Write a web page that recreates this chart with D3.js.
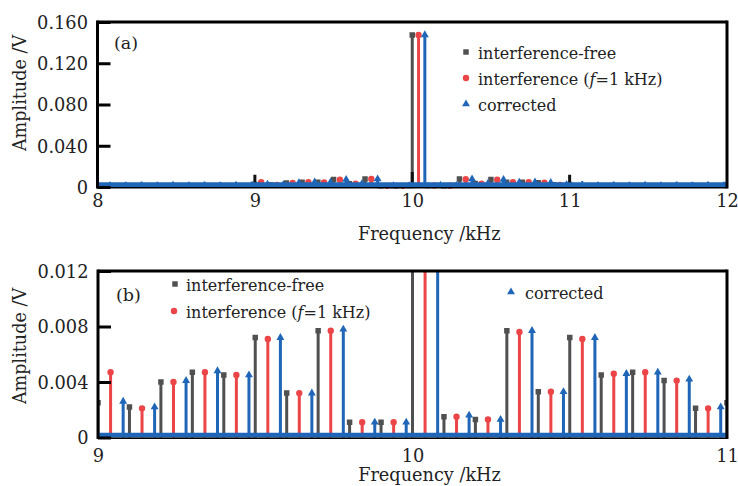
<!DOCTYPE html>
<html><head><meta charset="utf-8">
<script src="https://cdn.jsdelivr.net/npm/d3@7"></script>
<style>
body{margin:0;background:#fff}
svg{display:block}
text{font-family:"DejaVu Serif",serif;fill:#222}
</style>
</head><body><svg id="c" width="738" height="486"></svg>
<script>
// ---- data ----
const freeFreq = [9.0,9.1,9.2,9.3,9.4,9.5,9.6,9.7,9.8,9.9,10.0,10.1,10.2,10.3,10.4,10.5,10.6,10.7,10.8,10.9,11.0];
const freeAmp  = [0.0025,0.0022,0.0040,0.0047,0.0045,0.0072,0.0032,0.0077,0.0011,0.0011,0.1475,0.0015,0.0013,0.0077,0.0033,0.0072,0.0045,0.0047,0.0041,0.0021,0.0025];
const intFreq  = [9.04,9.14,9.24,9.34,9.44,9.54,9.64,9.74,9.84,9.94,10.04,10.14,10.24,10.34,10.44,10.54,10.64,10.74,10.84,10.94];
const intAmp   = [0.0047,0.0021,0.0040,0.0047,0.0045,0.0071,0.0032,0.0077,0.0011,0.0011,0.1475,0.0015,0.0013,0.0076,0.0033,0.0071,0.0046,0.0047,0.0041,0.0021];
const corFreq  = [9.08,9.18,9.28,9.38,9.48,9.58,9.68,9.78,9.88,9.98,10.08,10.18,10.28,10.38,10.48,10.58,10.68,10.78,10.88,10.98];
const corAmp   = [0.0026,0.0022,0.0041,0.0048,0.0045,0.0072,0.0032,0.0078,0.0011,0.0011,0.1475,0.0016,0.0013,0.0077,0.0033,0.0072,0.0046,0.0047,0.0042,0.0022];
// panel (a) extra: thin black spikes and small blue stems outside 9-11 kHz
const spikeFreqA = [9.0,10.0,11.0];
const spikeAmpA  = [0.0120,0.0145,0.0120];
const edgeFreqA  = [8.08,8.18,8.28,8.38,8.48,8.58,8.68,8.78,8.88,8.98,11.08,11.18,11.28,11.38,11.48,11.58,11.68,11.78,11.88,11.98];
const edgeAmpA   = [0.0052,0.0052,0.0053,0.0052,0.0053,0.0052,0.0053,0.0052,0.0053,0.0053,0.0058,0.0052,0.0053,0.0052,0.0053,0.0052,0.0053,0.0052,0.0053,0.0052];

const xTicksA = [8,9,10,11,12];
const yTicksA = [0,0.04,0.08,0.12,0.16];
const yLabelsA = ["0","0.040","0.080","0.120","0.160"];
const xTicksB = [9,10,11];
const yTicksB = [0,0.004,0.008,0.012];
const yLabelsB = ["0","0.004","0.008","0.012"];
const seriesNames = ["interference-free","interference (","corrected"];

const C_FREE = "#505050", C_INT = "#ec4548", C_COR = "#1f66b8";

const svg = d3.select("#c");

function drawPanel(cfg){
  const x = d3.scaleLinear().domain(cfg.xd).range([cfg.x0, cfg.x1]);
  const y = d3.scaleLinear().domain(cfg.yd).range([cfg.y0, cfg.y1]);
  const g = svg.append("g");
  const cid = "clip" + cfg.id;
  svg.append("clipPath").attr("id", cid).append("rect")
    .attr("x", cfg.x0).attr("y", cfg.y1).attr("width", cfg.x1 - cfg.x0).attr("height", cfg.y0 - cfg.y1 + 2);
  const pg = g.append("g").attr("clip-path", `url(#${cid})`);

  function stems(freqs, amps, color, w){
    pg.append("g").selectAll("line").data(freqs).join("line")
      .attr("x1", d => x(d)).attr("x2", d => x(d))
      .attr("y1", y(0)).attr("y2", (d,i) => y(amps[i]))
      .attr("stroke", color).attr("stroke-width", w);
  }
  function markers(freqs, amps, color, type, size){
    pg.append("g").selectAll("path").data(freqs).join("path")
      .attr("d", d3.symbol().type(type).size(size))
      .attr("transform", (d,i) => `translate(${x(d)},${y(amps[i])})`)
      .attr("fill", color);
  }

  if (cfg.extra){
    stems(edgeFreqA, edgeAmpA, C_COR, 2);
  }
  stems(freeFreq, freeAmp, C_FREE, 3);
  markers(freeFreq, freeAmp, C_FREE, d3.symbolSquare, 30);
  stems(intFreq, intAmp, C_INT, 3);
  markers(intFreq, intAmp, C_INT, d3.symbolCircle, 32);
  stems(corFreq, corAmp, C_COR, 3);
  markers(corFreq, corAmp, C_COR, d3.symbolTriangle, 27);
  if (cfg.extra){
    stems(spikeFreqA, spikeAmpA, "#111", 3);
  }
  // blue baseline band
  pg.append("line").attr("x1", cfg.x0).attr("x2", cfg.x1)
    .attr("y1", y(0) - 2.4).attr("y2", y(0) - 2.4)
    .attr("stroke", C_COR).attr("stroke-width", 4.8);

  // y axis
  const ya = g.append("g").attr("transform", `translate(${cfg.x0},0)`)
    .call(d3.axisLeft(y).tickValues(cfg.yt).tickSize(-13).tickPadding(10)
      .tickFormat((d,i) => cfg.yl[i]));
  ya.select(".domain").remove();
  ya.selectAll(".tick line").attr("stroke", "#000").attr("stroke-width", 3);
  ya.selectAll(".tick text").attr("font-size", 17.8).attr("x", -9.5).attr("dy", "0.36em")
    .attr("fill", "#222").style("font-family", '"DejaVu Serif",serif');

  // x axis labels
  const xa = g.append("g").attr("transform", `translate(0,${cfg.y0})`)
    .call(d3.axisBottom(x).tickValues(cfg.xt).tickSize(0).tickFormat(d3.format("d")));
  xa.select(".domain").remove();
  xa.selectAll(".tick text").attr("font-size", 17.8).attr("y", cfg.xlabOff).attr("dy", 0)
    .attr("fill", "#222").style("font-family", '"DejaVu Serif",serif');

  // frame
  g.append("line").attr("x1", cfg.x0).attr("x2", cfg.x0).attr("y1", cfg.y1 - 1.5).attr("y2", cfg.y0 + 1.5)
    .attr("stroke", "#000").attr("stroke-width", 3);
  g.append("line").attr("x1", cfg.x1).attr("x2", cfg.x1).attr("y1", cfg.y1 - 1.5).attr("y2", cfg.y0 + 1.5)
    .attr("stroke", "#000").attr("stroke-width", 3);
  g.append("line").attr("x1", cfg.x0).attr("x2", cfg.x1).attr("y1", cfg.y1).attr("y2", cfg.y1)
    .attr("stroke", "#000").attr("stroke-width", 3);
  g.append("line").attr("x1", cfg.x0).attr("x2", cfg.x1).attr("y1", cfg.y0 + 0.8).attr("y2", cfg.y0 + 0.8)
    .attr("stroke", "#000").attr("stroke-width", 1.6);

  // axis titles
  g.append("text").attr("x", (cfg.x0 + cfg.x1)/2 + 17).attr("y", cfg.xtitleY)
    .attr("text-anchor", "middle").attr("font-size", 17.7).text("Frequency /kHz");
  g.append("text").attr("transform", `translate(26,${cfg.ytitleY}) rotate(-90)`)
    .attr("text-anchor", "middle").attr("font-size", 17.6).text("Amplitude /V");

  // panel tag
  g.append("text").attr("x", cfg.tagX).attr("y", cfg.tagY).attr("font-size", 17.5).text(cfg.tag);

  // legend
  const L = cfg.legend;
  const shapes = [[d3.symbolSquare, C_FREE, 30],[d3.symbolCircle, C_INT, 32],[d3.symbolTriangle, C_COR, 27]];
  L.forEach((p, i) => {
    g.append("path").attr("d", d3.symbol().type(shapes[i][0]).size(shapes[i][2]))
      .attr("transform", `translate(${p[0]},${p[1]})`).attr("fill", shapes[i][1]);
    const t = g.append("text").attr("x", p[2]).attr("y", p[1] + 6.5).attr("font-size", 16);
    t.append("tspan").text(seriesNames[i]);
    if (i === 1){
      t.append("tspan").attr("font-style", "italic").text("f");
      t.append("tspan").text("=1 kHz)");
    }
  });
}

drawPanel({id:"a", xd:[8,12], yd:[0,0.16], x0:97.5, x1:727, y0:187, y1:22,
  xt:xTicksA, yt:yTicksA, yl:yLabelsA, xlabOff:19.5, xtitleY:240, ytitleY:93,
  tag:"(a)", tagX:114, tagY:49, extra:true,
  legend:[[466,52,478],[466,78,478],[466,104,478]]});

drawPanel({id:"b", xd:[9,11], yd:[0,0.012], x0:98, x1:727, y0:437.5, y1:271,
  xt:xTicksB, yt:yTicksB, yl:yLabelsB, xlabOff:24.5, xtitleY:480.5, ytitleY:346,
  tag:"(b)", tagX:116, tagY:301, extra:false,
  legend:[[175,284,186],[174,311,186],[511,292,525]]});
</script>
</body></html>
